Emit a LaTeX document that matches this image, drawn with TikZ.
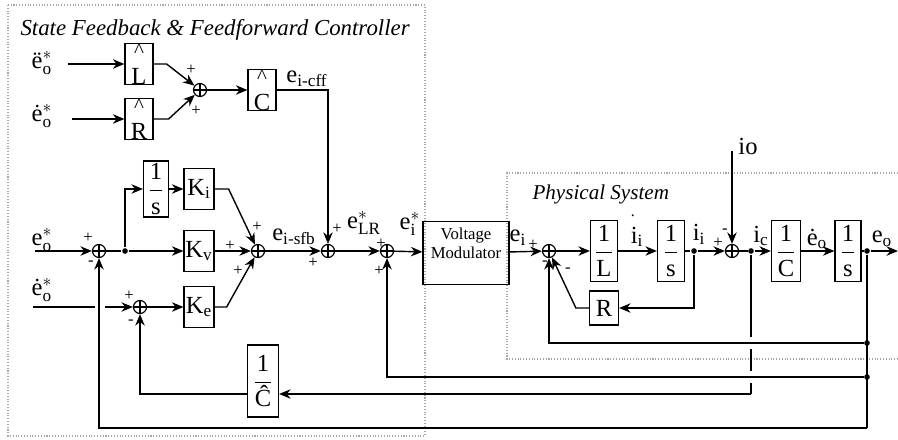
\documentclass[tikz,border=0pt]{standalone}
\usepackage{amsmath}
\usepackage{fontspec}
\setmainfont{Liberation Serif}
\setmathrm{Liberation Serif}
\usetikzlibrary{arrows.meta}

\begin{document}
\begin{tikzpicture}[
  x=0.02cm, y=-0.02cm, line width=0.8pt,
  >={Stealth[length=2.3mm,width=1.9mm]},
  every node/.style={font=\fontsize{14}{16}\selectfont},
  blk/.style={draw, line width=0.7pt, inner sep=0pt, align=center, font=\fontsize{14}{16}\selectfont},
  sumnode/.style={draw, circle, line width=0.7pt, inner sep=0pt, minimum size=0.26cm,
    path picture={\draw[line width=0.6pt] (path picture bounding box.north) -- (path picture bounding box.south)
      (path picture bounding box.west) -- (path picture bounding box.east);}},
  tap/.style={circle, fill, inner sep=0pt, minimum size=3.2pt},
  sgn/.style={inner sep=0pt, font=\fontsize{9.5}{9.5}\selectfont},
  frame/.style={draw=gray!70, densely dotted, line width=0.6pt}
]
  \useasboundingbox (0,0) rectangle (898,439);
  % frames and titles
  \draw[frame] (8,5) rectangle (425,436);
  \draw[frame] (898,173) -- (507,173) -- (507,359) -- (898,359);
  \node[anchor=west, font=\itshape\fontsize{13}{15}\selectfont] (ttlC) at (14,30) {State Feedback \& Feedforward Controller};
  \node[anchor=west, font=\itshape\fontsize{12}{14}\selectfont] (ttlP) at (526,194) {Physical System};

  % feedforward part
  \node (eddo) at (42,63) {$\text{ë}_{\mathrm{o}}^{*}$};
  \node (edoA) at (42,116) {$\text{ė}_{\mathrm{o}}^{*}$};
  \coordinate (inA) at (68,64);
  \coordinate (inB) at (72,119);
  \node[blk, minimum width=0.56cm, minimum height=0.76cm] (Lh) at (139,64) {{\fontsize{12}{12}\selectfont\^{}}\\[-0.5pt]L};
  \node[blk, minimum width=0.56cm, minimum height=0.76cm] (Rh) at (139,119) {{\fontsize{12}{12}\selectfont\^{}}\\[-0.5pt]R};
  \node[sumnode] (sA) at (200,90) {};
  \node[blk, minimum width=0.56cm, minimum height=0.76cm] (Ch) at (262,90) {{\fontsize{12}{12}\selectfont\^{}}\\[-0.5pt]C};
  \coordinate (cff) at (328,90);
  \node (lcff) at (307,79) {$\mathrm{e}_{\text{i-cff}}$};
  \node[sgn] (pA1) at (191,70) {+};
  \node[sgn] (pA2) at (196,111) {+};
  \draw[->] (inA) -- (Lh);
  \draw[->] (inB) -- (Rh);
  \draw[->] (Lh.east) -- ++(13,0) -- (sA);
  \draw[->] (Rh.east) -- ++(15,0) -- (sA);
  \draw[->] (sA) -- (Ch);

  % state feedback part
  \node (eoS) at (42,240) {$\mathrm{e}_{\mathrm{o}}^{*}$};
  \coordinate (inC) at (35,251);
  \node[sumnode] (sB) at (99,251) {};
  \node[tap] (bB) at (125,251) {};
  \node[blk, minimum width=0.5cm, minimum height=1.12cm] (intK) at (156,189) {$\dfrac{\mathrm{1}}{\mathrm{s}}$};
  \node[blk, minimum width=0.6cm, minimum height=0.82cm] (Ki) at (199,189) {$\mathrm{K}_{\mathrm{i}}$};
  \node[blk, minimum width=0.6cm, minimum height=0.82cm] (Kv) at (199,251) {$\mathrm{K}_{\mathrm{v}}$};
  \node[blk, minimum width=0.6cm, minimum height=0.82cm] (Ke) at (199,307) {$\mathrm{K}_{\mathrm{e}}$};
  \node[sumnode] (sC) at (258,251) {};
  \node (lsfb) at (294,237) {$\mathrm{e}_{\text{i-sfb}}$};
  \node[sumnode] (sD) at (328,251) {};
  \node (lLR) at (364,223) {$\mathrm{e}_{\mathrm{LR}}^{*}$};
  \node[sumnode] (sE) at (387,251) {};
  \node (lei) at (410,224) {$\mathrm{e}_{\mathrm{i}}^{*}$};
  \node (edoB) at (42,290) {$\text{ė}_{\mathrm{o}}^{*}$};
  \coordinate (inD) at (33,307);
  \coordinate (gapL) at (95,307);
  \coordinate (gapR) at (105,307);
  \node[sumnode] (sF) at (140,307) {};
  \node[blk, minimum width=0.62cm, minimum height=1.44cm] (invC) at (263,381) {$\dfrac{\mathrm{1}}{\text{Ĉ}}$};
  \node[sgn] (pB1) at (88,238) {+};
  \node[sgn] (mB1) at (91,263) {-};
  \node[sgn] (pF1) at (129,296) {+};
  \node[sgn] (mF1) at (131,322) {-};
  \node[sgn] (pC1) at (257,227) {+};
  \node[sgn] (pC2) at (230,246) {+};
  \node[sgn] (pC3) at (238,271) {+};
  \node[sgn] (pD1) at (337,229) {+};
  \node[sgn] (pD2) at (313,263) {+};
  \node[sgn] (pE1) at (381,244) {+};
  \node[sgn] (pE2) at (379,271) {+};
  \draw[->] (inC) -- (sB);
  \draw (sB) -- (bB);
  \draw[->] (bB) -- (Kv);
  \draw[->] (bB) |- (intK);
  \draw[->] (intK) -- (Ki);
  \draw[->] (Ki.east) -- ++(14,0) -- (sC);
  \draw[->] (Kv) -- (sC);
  \draw[->] (Ke.east) -- ++(12,0) -- (sC);
  \draw[->] (sC) -- (sD);
  \draw[->] (Ch) -- (cff) -- (sD);
  \draw[->] (sD) -- (sE);
  \draw (inD) -- (gapL);
  \draw[->] (gapR) -- (sF);
  \draw[->] (sF) -- (Ke);

  % modulator and physical system
  \node[blk, minimum width=1.72cm, minimum height=1.26cm, font=\fontsize{9.5}{11}\selectfont] (VM) at (466,253) {Voltage\\Modulator\\\mbox{}};
  \node (lei2) at (518,238) {$\mathrm{e}_{\mathrm{i}}$};
  \node[sumnode] (sG) at (549,251) {};
  \node[blk, minimum width=0.54cm, minimum height=1.22cm] (invL) at (604,251) {$\dfrac{\mathrm{1}}{\mathrm{L}}$};
  \node[align=left, inner sep=1pt] (lidot) at (637,231) {{\fontsize{9}{9}\selectfont .}\\[-1pt]$\mathrm{i}_{\mathrm{i}}$};
  \node[blk, minimum width=0.54cm, minimum height=1.22cm] (intI) at (671,251) {$\dfrac{\mathrm{1}}{\mathrm{s}}$};
  \node (lii) at (699,234) {$\mathrm{i}_{\mathrm{i}}$};
  \node[tap] (dA) at (694,251) {};
  \node[blk, minimum width=0.58cm, minimum height=0.68cm] (R) at (604,308) {R};
  \node[sumnode] (sH) at (732,251) {};
  \coordinate (ioin) at (732,151);
  \node (lio) at (748,146) {io};
  \node (lic) at (761,236) {$\mathrm{i}_{\mathrm{c}}$};
  \node[tap] (dB) at (751,251) {};
  \node[blk, minimum width=0.58cm, minimum height=1.22cm] (invCp) at (786,251) {$\dfrac{\mathrm{1}}{\mathrm{C}}$};
  \node (ledo) at (817,239) {$\text{ė}_{\mathrm{o}}$};
  \node[blk, minimum width=0.52cm, minimum height=1.22cm] (intV) at (848,251) {$\dfrac{\mathrm{1}}{\mathrm{s}}$};
  \node[tap] (dC) at (867,251) {};
  \node (leo) at (882,239) {$\mathrm{e}_{\mathrm{o}}$};
  \coordinate (out) at (898,251);
  \node[sgn] (pG1) at (533,245) {+};
  \node[sgn] (mG1) at (545,263) {-};
  \node[sgn] (mG2) at (568,270) {-};
  \node[sgn] (pH1) at (718,243) {+};
  \node[sgn] (mH1) at (725,231) {-};
  \draw[->] (sE) -- (VM);
  \draw[->] (VM) -- (sG);
  \draw[->] (sG) -- (invL);
  \draw[->] (invL) -- (intI);
  \draw (intI) -- (dA);
  \draw[->] (dA) -- (sH);
  \draw[->] (dA) |- (R);
  \draw[->] (R.west) -- ++(-13,0) -- (sG);
  \draw[->] (ioin) -- (sH);
  \draw (sH) -- (dB);
  \draw[->] (dB) -- (invCp);
  \draw[->] (invCp) -- (intV);
  \draw (intV) -- (dC);
  \draw[->] (dC) -- (out);

  % feedback paths
  \node[tap] (tA) at (867,343) {};
  \node[tap] (tB) at (867,377) {};
  \coordinate (fbC) at (867,428);
  \coordinate (icC) at (751,394);
  \coordinate (gA) at (751,337);
  \coordinate (gB) at (751,349);
  \coordinate (gC) at (751,371);
  \coordinate (gD) at (751,383);
  \draw (dC) -- (fbC);
  \draw[->] (tA) -| (sG);
  \draw[->] (tB) -| (sE);
  \draw[->] (fbC) -| (sB);
  \draw (dB) -- (gA);
  \draw (gB) -- (gC);
  \draw (gD) -- (icC);
  \draw[->] (icC) -- (invC.east |- icC);
  \draw[->] (invC.west |- icC) -| (sF);
\end{tikzpicture}
\end{document}
